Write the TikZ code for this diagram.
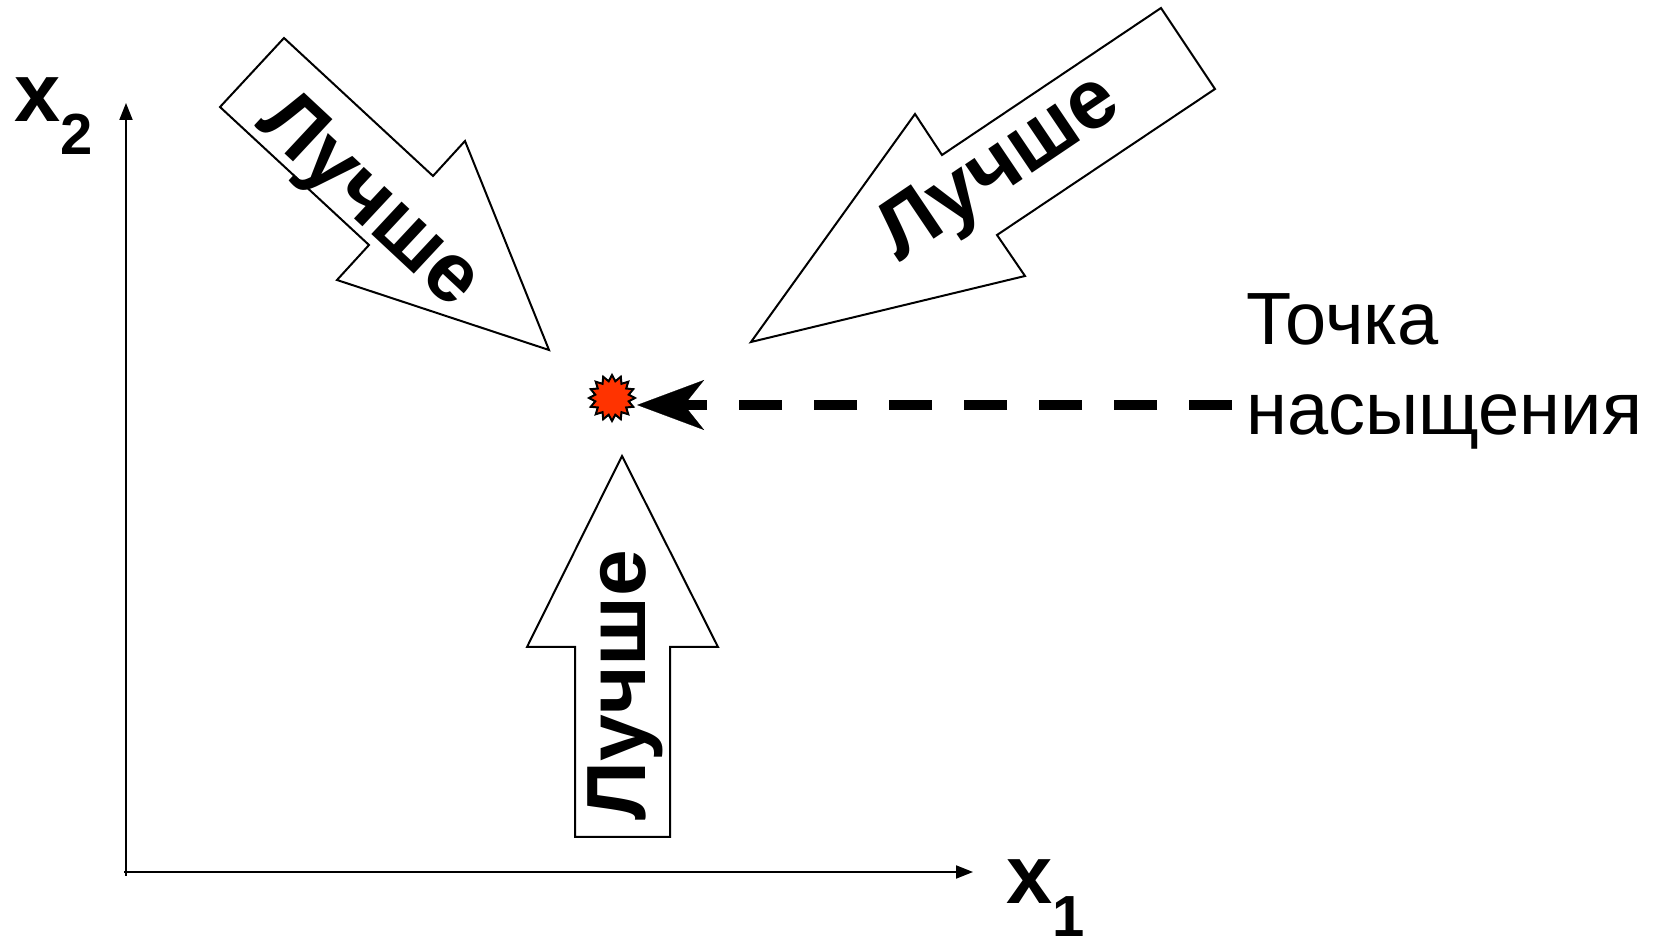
\documentclass[tikz,border=0pt]{standalone}
\usepackage{fontspec}
\setmainfont{Liberation Sans}
\usetikzlibrary{arrows.meta,shapes.geometric}
\definecolor{starred}{RGB}{255,51,0}
\begin{document}
\begin{tikzpicture}[x=0.5pt,y=-0.5pt,
  blockarrow/.style={draw=black,line width=1pt,fill=white,line join=miter},
  better/.style={font=\fontsize{42pt}{50pt}\selectfont\bfseries,inner sep=0pt},
  axisline/.style={line width=1pt,-{Triangle[length=8.5pt,width=6.5pt]}},
  axislabel/.style={anchor=base west,inner sep=0pt},
  satstar/.style={star,star points=16,star point ratio=1.35,minimum size=23pt,
    inner sep=0pt,fill=starred,draw=black,line width=1pt},
  dashlink/.style={line width=5.3pt,dash pattern=on 21.5pt off 16pt,
    -{Stealth[length=33.5pt,width=25pt,inset=10pt,line width=0.1pt]}}]
\useasboundingbox (0,0) rectangle (1662,940);
% axes
\coordinate (o) at (126,876);
\coordinate (ytop) at (126,103);
\coordinate (xs) at (124,872);
\coordinate (xend) at (973,872);
\draw[axisline] (o) -- (ytop);
\draw[axisline] (xs) -- (xend);
\node[axislabel] (lx2) at (14,122) {\fontsize{41.5pt}{48pt}\selectfont\bfseries x\fontsize{29pt}{34pt}\selectfont\raisebox{-16.5pt}{2}};
\node[axislabel] (lx1) at (1006,904) {\fontsize{41.5pt}{48pt}\selectfont\bfseries x\fontsize{29pt}{34pt}\selectfont\raisebox{-16.5pt}{1}};
% block arrows
\draw[blockarrow] (284,38) -- (433,176) -- (465,141) -- (549,350) -- (337,280) -- (369,245) -- (220,107) -- cycle;
\draw[blockarrow] (1161,8) -- (1215,89) -- (997,235) -- (1025,276) -- (751,342) -- (915,114) -- (942,155) -- cycle;
\draw[blockarrow] (622,456) -- (718,647) -- (670,647) -- (670,837) -- (575,837) -- (575,647) -- (527,647) -- cycle;
\node[better,rotate=-43] (b1) at (367,203) {Лучше};
\node[better,rotate=34] (b2) at (1001,170) {Лучше};
\node[better,rotate=90] (b3) at (625,685) {Лучше};
% saturation point
\node[satstar] (sat) at (612,398) {};
\node[anchor=base west,align=left,inner sep=0pt,font=\fontsize{37pt}{45pt}\selectfont] (lbl) at (1246,435) {Точка\\насыщения};
\coordinate (dashstart) at (1232,405);
\draw[dashlink] (dashstart) -- (sat.east |- dashstart);
\end{tikzpicture}
\end{document}
